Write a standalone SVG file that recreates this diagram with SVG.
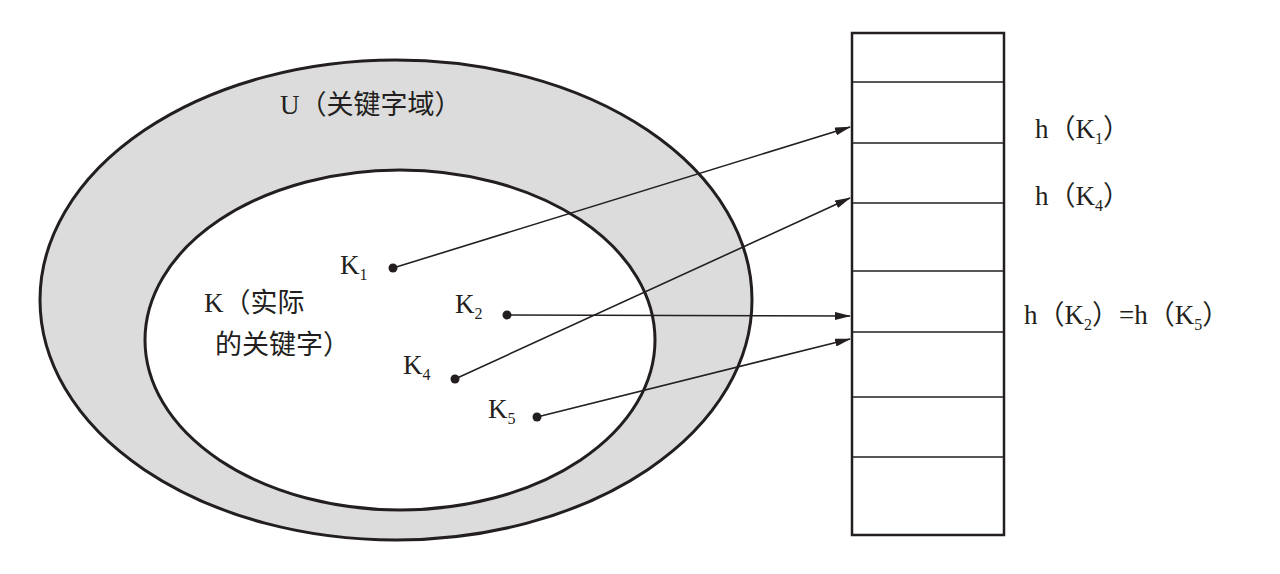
<svg xmlns="http://www.w3.org/2000/svg" width="1280" height="574" viewBox="0 0 1280 574">
<style>
text{font-family:"Liberation Serif","Noto Sans CJK SC",serif;font-size:27px;fill:#231f20}
.s{font-size:16px}
.l{stroke:#231f20;stroke-width:1.6;fill:none}
</style>
<defs><marker id="a" markerWidth="16" markerHeight="8" refX="15" refY="4" orient="auto" markerUnits="userSpaceOnUse"><path d="M0,0 L16,4 L0,8 Z" fill="#231f20"/></marker></defs>
<rect width="1280" height="574" fill="#fff"/>
<g id="universe"><ellipse cx="396" cy="300" rx="356" ry="240" fill="#dcdcdc" stroke="#231f20" stroke-width="3"/>
<text x="280" y="114">U（关键字域）</text></g>
<g id="keys"><ellipse cx="400" cy="340" rx="255" ry="170" fill="#fff" stroke="#231f20" stroke-width="3"/>
<text x="204" y="312">K（实际</text><text x="215" y="354">的关键字）</text></g>
<g id="table"><rect x="852" y="33" width="152" height="502" fill="#fff" stroke="#231f20" stroke-width="2.5"/>
<path class="l" d="M852 82H1004M852 143H1004M852 203H1004M852 271H1004M852 332H1004M852 397H1004M852 457H1004" stroke-width="2"/></g>
<g id="k1"><circle cx="393" cy="268" r="4.5" fill="#231f20"/><text x="340" y="274">K<tspan class="s" dy="6">1</tspan></text></g>
<g id="k2"><circle cx="507" cy="315" r="4.5" fill="#231f20"/><text x="455" y="313">K<tspan class="s" dy="6">2</tspan></text></g>
<g id="k4"><circle cx="455" cy="379" r="4.5" fill="#231f20"/><text x="403" y="374">K<tspan class="s" dy="6">4</tspan></text></g>
<g id="k5"><circle cx="537" cy="417" r="4.5" fill="#231f20"/><text x="488" y="418">K<tspan class="s" dy="6">5</tspan></text></g>
<g id="connectors">
<line class="l" x1="393" y1="268" x2="850" y2="127" marker-end="url(#a)"/>
<line class="l" x1="455" y1="379" x2="850" y2="198" marker-end="url(#a)"/>
<line class="l" x1="507" y1="315" x2="850" y2="316" marker-end="url(#a)"/>
<line class="l" x1="537" y1="417" x2="850" y2="339" marker-end="url(#a)"/>
</g>
<g id="labels">
<text x="1035" y="138">h（K<tspan class="s" dy="6">1</tspan><tspan dy="-6">）</tspan></text>
<text x="1035" y="205">h（K<tspan class="s" dy="6">4</tspan><tspan dy="-6">）</tspan></text>
<text x="1024" y="324">h（K<tspan class="s" dy="6">2</tspan><tspan dy="-6">）=h（K</tspan><tspan class="s" dy="6">5</tspan><tspan dy="-6">）</tspan></text>
</g>
</svg>
